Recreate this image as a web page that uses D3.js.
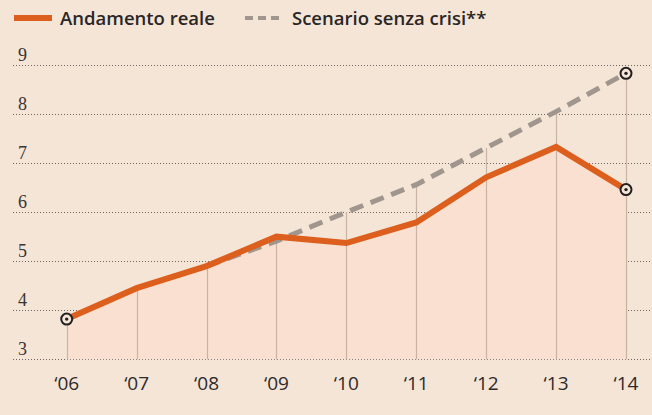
<!DOCTYPE html>
<html>
<head>
<meta charset="utf-8">
<script src="https://cdn.jsdelivr.net/npm/d3@7"></script>
<style>
  html, body { margin: 0; padding: 0; background: #f4e5d7; }
  svg { display: block; }
</style>
</head>
<body>
<svg id="chart" width="652" height="415"></svg>
<script>
const years = ['06', '07', '08', '09', '10', '11', '12', '13', '14'];
const actual = [3.82, 4.45, 4.9, 5.5, 5.37, 5.79, 6.71, 7.33, 6.46];
// scenario line only starts from '08
const scenario = [null, null, 4.9, 5.41, 6.0, 6.56, 7.31, 8.05, 8.83];
const yTicks = [3, 4, 5, 6, 7, 8, 9];
const legendLabels = ['Andamento reale', 'Scenario senza crisi**'];

const orange = '#dc5f1d';
const grey = '#a0968e';
const bg = '#f4e5d7';

const svg = d3.select('#chart');
const width = +svg.attr('width');

const x = d3.scalePoint()
    .domain(years)
    .range([66.7, 626]);

const y = d3.scaleLinear()
    .domain([3, 9])
    .range([359.3, 65]);

// gridlines
const grid = svg.append('g').attr('class', 'grid');
grid.selectAll('line')
    .data(yTicks)
    .enter()
    .append('line')
    .attr('x1', 13)
    .attr('x2', width)
    .attr('y1', d => Math.round(y(d)) + 0.5)
    .attr('y2', d => Math.round(y(d)) + 0.5)
    .attr('stroke', '#6e6562')
    .attr('stroke-width', 1)
    .attr('stroke-dasharray', '1,2');

grid.selectAll('text')
    .data(yTicks)
    .enter()
    .append('text')
    .attr('x', 18)
    .attr('y', d => y(d) - 4)
    .attr('font-family', '"Liberation Serif", "DejaVu Serif", serif')
    .attr('font-size', 18)
    .attr('fill', '#3a3432')
    .text(d => d);

// area under the real line
const area = d3.area()
    .x((d, i) => x(years[i]))
    .y0(y(3))
    .y1(d => y(d));

svg.append('path')
    .datum(actual)
    .attr('d', area)
    .attr('fill', '#f9e0d0');

// vertical drop lines
svg.append('g')
    .selectAll('line')
    .data(years)
    .enter()
    .append('line')
    .attr('x1', d => Math.round(x(d)) + 0.5)
    .attr('x2', d => Math.round(x(d)) + 0.5)
    .attr('y1', y(3))
    .attr('y2', (d, i) => y(Math.max(actual[i], scenario[i] || 0)))
    .attr('stroke', '#c9b4a4')
    .attr('stroke-width', 1.2);

// x labels
svg.append('g')
    .selectAll('text')
    .data(years)
    .enter()
    .append('text')
    .attr('x', d => x(d))
    .attr('y', 390)
    .attr('text-anchor', 'middle')
    .attr('font-family', '"Open Sans", sans-serif')
    .attr('font-size', 19)
    .attr('fill', '#2e2a2a')
    .text(d => `\u2018${d}`);

// lines
const line = d3.line()
    .defined(d => d != null)
    .x((d, i) => x(years[i]))
    .y(d => y(d));

svg.append('path')
    .datum(scenario)
    .attr('d', line)
    .attr('fill', 'none')
    .attr('stroke', grey)
    .attr('stroke-width', 5)
    .attr('stroke-dasharray', '14,8');

svg.append('path')
    .datum(actual)
    .attr('d', line)
    .attr('fill', 'none')
    .attr('stroke', orange)
    .attr('stroke-width', 6)
    .attr('stroke-linejoin', 'miter');

// end markers
const marks = [
    { k: years[0], v: actual[0] },
    { k: years[8], v: actual[8] },
    { k: years[8], v: scenario[8] }
];
const mk = svg.append('g')
    .selectAll('g')
    .data(marks)
    .enter()
    .append('g')
    .attr('transform', d => `translate(${x(d.k)},${y(d.v)})`);
mk.append('circle')
    .attr('r', 5.5)
    .attr('fill', bg)
    .attr('stroke', '#231f20')
    .attr('stroke-width', 2);
mk.append('circle')
    .attr('r', 1.7)
    .attr('fill', '#231f20');

// legend
const legend = svg.append('g').attr('class', 'legend');
legend.append('line')
    .attr('x1', 14).attr('x2', 52)
    .attr('y1', 18).attr('y2', 18)
    .attr('stroke', orange)
    .attr('stroke-width', 6);
legend.append('line')
    .attr('x1', 245).attr('x2', 284)
    .attr('y1', 18).attr('y2', 18)
    .attr('stroke', grey)
    .attr('stroke-width', 4)
    .attr('stroke-dasharray', '8,5');
legend.selectAll('text')
    .data(legendLabels)
    .enter()
    .append('text')
    .attr('x', (d, i) => (i === 0 ? 60 : 292))
    .attr('y', 25)
    .attr('font-family', '"Open Sans", sans-serif')
    .attr('font-weight', 600)
    .attr('font-size', 18.5)
    .attr('fill', '#2a2626')
    .text(d => d);
</script>
</body>
</html>
